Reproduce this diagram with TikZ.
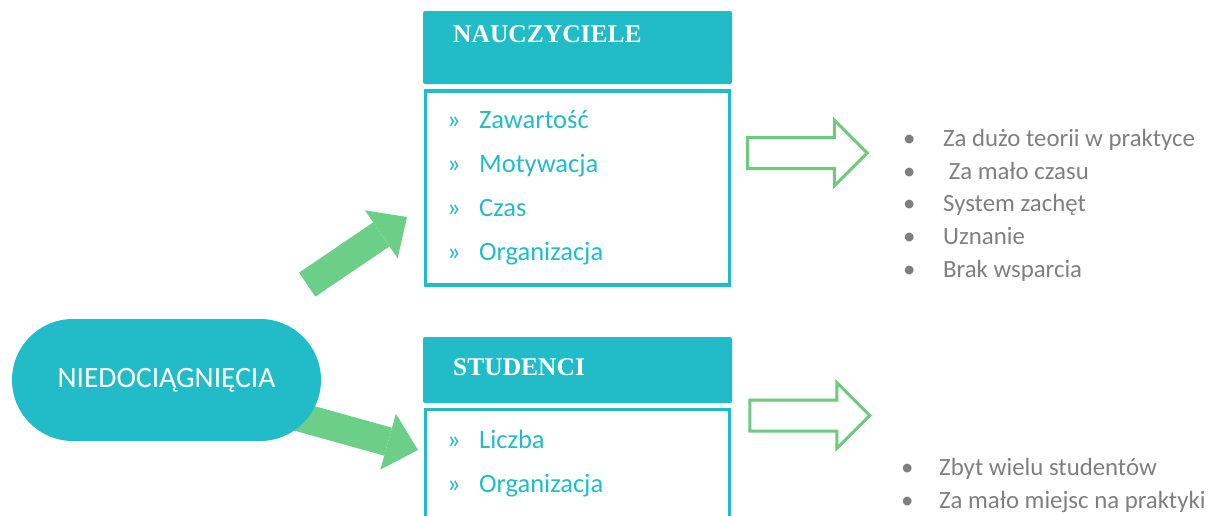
\documentclass[tikz,border=0pt]{standalone}
\usepackage{fontspec}
\setmainfont{Carlito}
\newfontfamily\headfont{Liberation Serif}
\usetikzlibrary{positioning,shapes.arrows,arrows.meta,backgrounds}

\definecolor{tealmain}{HTML}{22BCC8}
\definecolor{greenfill}{HTML}{6BCF87}
\definecolor{greenline}{HTML}{6ECB7E}
\definecolor{notegray}{HTML}{7F7F7F}

\begin{document}
\begin{tikzpicture}[
  x=1pt, y=-1pt,
  pillblock/.style={
    rectangle,
    rounded corners=61pt,
    fill=tealmain,
    text=white,
    inner sep=0pt,
    minimum width=309pt,
    minimum height=122pt,
    font=\fontsize{29.5}{34}\selectfont
  },
  headblock/.style={
    rectangle,
    rounded corners=2pt,
    fill=tealmain,
    inner sep=0pt,
    minimum width=309pt
  },
  listblock/.style={
    rectangle,
    line width=3.5pt,
    draw=tealmain,
    fill=white,
    inner sep=0pt,
    minimum width=304pt
  },
  headtext/.style={
    anchor=west,
    inner sep=0pt,
    text=white,
    font=\headfont\bfseries\fontsize{25.5}{30}\selectfont
  },
  itemtext/.style={
    anchor=west,
    inner sep=0pt,
    text=tealmain,
    text height=17pt,
    text depth=5pt,
    font=\fontsize{26.5}{30}\selectfont
  },
  notetext/.style={
    anchor=west,
    inner sep=0pt,
    text=notegray,
    text height=16pt,
    text depth=5pt,
    font=\fontsize{24.8}{29}\selectfont
  },
  greenarrow/.style={
    draw=greenfill,
    line width=29pt,
    -{Triangle[length=31pt,width=58pt,line width=0pt]}
  },
  hollowarrow/.style={
    single arrow,
    draw=greenline,
    line width=3pt,
    fill=white,
    inner xsep=0pt,
    inner ysep=14pt,
    single arrow head extend=17.5pt,
    minimum height=120pt
  }]
  \useasboundingbox (0,0) rectangle (1208,515);
  \clip (0,0) rectangle (1208,515);

  % left pill
  \node[pillblock] (nied) at (166.5,380) {NIEDOCIĄGNIĘCIA};

  % teachers
  \node[headblock,minimum height=73pt] (head1) at (577.5,47.5) {};
  \node[headtext] (title1) at (453,34) {NAUCZYCIELE};
  \node[listblock,minimum height=194pt,below=5pt of head1] (list1) {};
  \node[itemtext] (item11) at (447,122) {\makebox[32pt][l]{»}Zawartość};
  \node[itemtext] (item12) at (447,166) {\makebox[32pt][l]{»}Motywacja};
  \node[itemtext] (item13) at (447,210) {\makebox[32pt][l]{»}Czas};
  \node[itemtext] (item14) at (447,254) {\makebox[32pt][l]{»}Organizacja};

  % students
  \node[headblock,minimum height=66pt] (head2) at (577.5,370) {};
  \node[headtext] (title2) at (453,367) {STUDENCI};
  \node[listblock,minimum height=196pt,below=4.5pt of head2] (list2) {};
  \node[itemtext] (item21) at (447,442.5) {\makebox[32pt][l]{»}Liczba};
  \node[itemtext] (item22) at (447,486.5) {\makebox[32pt][l]{»}Organizacja};

  % hollow arrows
  \node[hollowarrow] (hollow1) at (799.5,153) {};
  \node[hollowarrow] (hollow2) at (802,415.5) {};

  % notes
  \node[notetext] (note11) at (903,141) {\makebox[40pt][l]{•}Za dużo teorii w praktyce};
  \node[notetext] (note12) at (903,173.5) {\makebox[40pt][l]{•}\ Za mało czasu};
  \node[notetext] (note13) at (903,206) {\makebox[40pt][l]{•}System zachęt};
  \node[notetext] (note14) at (903,239) {\makebox[40pt][l]{•}Uznanie};
  \node[notetext] (note15) at (903,271.5) {\makebox[40pt][l]{•}Brak wsparcia};
  \node[notetext] (note21) at (901,470) {\makebox[38pt][l]{•}Zbyt wielu studentów};
  \node[notetext] (note22) at (901,502.5) {\makebox[38pt][l]{•}Za mało miejsc na praktyki};

  % green arrows
  \coordinate (tip1) at (407,217);
  \coordinate (tip2) at (418,450);
  \begin{scope}[on background layer]
  \draw[greenarrow,shorten <=170pt] (nied.center) -- (tip1);
  \draw[greenarrow] (nied.center) -- (tip2);
  \end{scope}
\end{tikzpicture}
\end{document}
